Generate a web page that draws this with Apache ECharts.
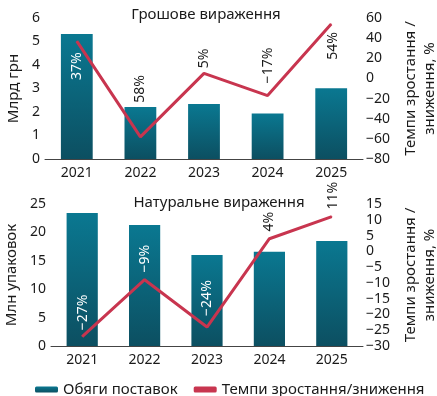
<!DOCTYPE html>
<html><head><meta charset="utf-8">
<script src="https://cdn.jsdelivr.net/npm/echarts@6/dist/echarts.min.js"></script>
<style>html,body{margin:0;padding:0;background:#fff}#c{width:437px;height:396px}</style>
</head><body><div id="c"></div>
<script>
// ---- data ----
const years = ['2021', '2022', '2023', '2024', '2025'];
const moneyVolume = [5.32, 2.21, 2.34, 1.94, 3.01];        // млрд грн
const moneyGrowth = [37, -58, 5, -17, 54];                 // %
const moneyGrowthLabels = ['37%', '58%', '5%', '−17%', '54%'];
const unitsVolume = [23.4, 21.3, 16.0, 16.6, 18.5];        // млн упаковок
const unitsGrowth = [-27, -9, -24, 4, 11];                 // %
const unitsGrowthLabels = ['−27%', '−9%', '−24%', '4%', '11%'];
const titles = ['Грошове вираження', 'Натуральне вираження'];
const leftNames = ['Млрд грн', 'Млн упаковок'];
const rightName = 'Темпи зростання /\nзниження, %';
const legendNames = ['Обяги поставок', 'Темпи зростання/зниження'];

// ---- styles (not data) ----
const FONT = 'Noto Sans';
const TXT = '#1a1a1a';
const LINE = '#c8354f';
const topLabelStyle = [
  {dx: 0, dy: 25, c: '#fff'}, {dx: 0, dy: -48, c: TXT}, {dx: 0, dy: -15, c: TXT}, {dx: 0, dy: -30, c: TXT}, {dx: 2, dy: 22, c: TXT}
];
const botLabelStyle = [
  {dx: 1, dy: -24, c: '#fff'}, {dx: 0, dy: -21, c: '#fff'}, {dx: 0, dy: -29, c: '#fff'}, {dx: 0, dy: -17, c: TXT}, {dx: 1, dy: -21, c: TXT}
];
const barColor = {type: 'linear', x: 0, y: 0, x2: 0, y2: 1,
  colorStops: [{offset: 0, color: '#0a7891'}, {offset: 1, color: '#0c4f61'}]};
const minus = v => String(v).replace('-', '−');

function xAxis(gi) {
  return {type: 'category', gridIndex: gi, data: years,
    axisLine: {lineStyle: {color: '#444', width: 1}}, axisTick: {show: false},
    axisLabel: {color: TXT, fontFamily: FONT, fontSize: 14, margin: 7}};
}
function leftY(gi, max, interval, name, gap) {
  return {type: 'value', gridIndex: gi, min: 0, max: max, interval: interval, position: 'left',
    name: name, nameLocation: 'middle', nameGap: gap, nameRotate: 90,
    nameTextStyle: {color: TXT, fontFamily: FONT, fontSize: 15},
    splitLine: {show: false}, axisLine: {show: false}, axisTick: {show: false},
    axisLabel: {color: TXT, fontFamily: FONT, fontSize: 14, margin: 5}};
}
function rightY(gi, min, max, interval) {
  return {type: 'value', gridIndex: gi, min: min, max: max, interval: interval, position: 'right',
    name: rightName, nameLocation: 'middle', nameGap: 37, nameRotate: 90,
    nameTextStyle: {color: TXT, fontFamily: FONT, fontSize: 15, lineHeight: 19},
    splitLine: {show: false}, axisLine: {show: false}, axisTick: {show: false},
    axisLabel: {color: TXT, fontFamily: FONT, fontSize: 14, margin: 3, formatter: minus}};
}
// label rotated 90°: offset is in the rotated frame -> [-dy, dx]
function lineData(vals, labels, st) {
  return vals.map((v, i) => ({value: v, label: {formatter: labels[i], color: st[i].c, offset: [-st[i].dy, st[i].dx]}}));
}
function lineSeries(xi, yi, vals, labels, st) {
  return {type: 'line', name: legendNames[1], xAxisIndex: xi, yAxisIndex: yi,
    data: lineData(vals, labels, st), symbol: 'circle', symbolSize: 1, z: 5,
    itemStyle: {color: LINE}, lineStyle: {color: LINE, width: 3},
    label: {show: true, position: 'inside', rotate: 90, fontFamily: FONT, fontSize: 14}};
}

const chart = echarts.init(document.getElementById('c'), null, {renderer: 'canvas'});
chart.setOption({
  animation: false,
  title: [
    {text: titles[0], left: 201, top: 2, textAlign: 'center', textStyle: {color: TXT, fontFamily: FONT, fontSize: 15, fontWeight: 'normal'}},
    {text: titles[1], left: 214, top: 190, textAlign: 'center', textStyle: {color: TXT, fontFamily: FONT, fontSize: 15, fontWeight: 'normal'}}
  ],
  grid: [
    {left: 45, right: 74, top: 18, height: 141, containLabel: false, outerBoundsMode: 'none'},
    {left: 51, right: 74, top: 204, height: 142, containLabel: false, outerBoundsMode: 'none'}
  ],
  legend: {left: 30, top: 377, itemWidth: 23, itemHeight: 6, itemGap: 16,
    textStyle: {color: TXT, fontFamily: FONT, fontSize: 15},
    data: [{name: legendNames[0], icon: 'roundRect'}, {name: legendNames[1], icon: 'roundRect', itemStyle: {color: LINE}}]},
  xAxis: [xAxis(0), xAxis(1)],
  yAxis: [
    leftY(0, 6, 1, leftNames[0], 24),
    rightY(0, -80, 60, 20),
    leftY(1, 25, 5, leftNames[1], 26),
    rightY(1, -30, 15, 5)
  ],
  series: [
    {type: 'bar', name: legendNames[0], xAxisIndex: 0, yAxisIndex: 0, data: moneyVolume, barWidth: '50%', itemStyle: {color: barColor}},
    lineSeries(0, 1, moneyGrowth, moneyGrowthLabels, topLabelStyle),
    {type: 'bar', name: legendNames[0], xAxisIndex: 1, yAxisIndex: 2, data: unitsVolume, barWidth: '50%', itemStyle: {color: barColor}},
    lineSeries(1, 3, unitsGrowth, unitsGrowthLabels, botLabelStyle)
  ]
});
</script></body></html>
